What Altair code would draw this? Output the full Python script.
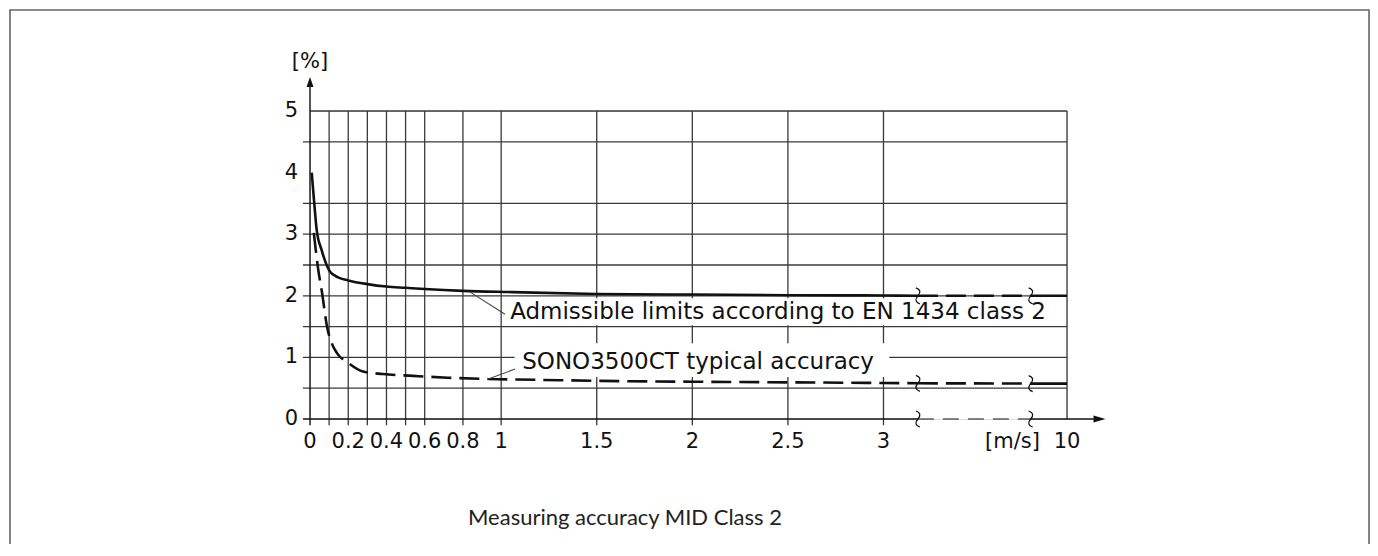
import altair as alt
import pandas as pd

# ---------------- data (x given in axis-position units; 3.96 stands for 10 m/s behind the break)
adm_pos = [0.009, 0.021, 0.035, 0.061, 0.087, 0.105, 0.147, 0.2, 0.3, 0.4, 0.5, 0.6, 0.8, 1.06, 1.5, 2.0, 2.5, 3.0, 3.18]
adm_val = [4.0, 3.55, 3.07, 2.74, 2.50, 2.39, 2.30, 2.25, 2.19, 2.15, 2.13, 2.11, 2.08, 2.06, 2.03, 2.02, 2.01, 2.005, 2.0]
adm_break_pos = [3.18, 3.77]
adm_break_val = [2.0, 2.0]
adm_tail_pos = [3.77, 3.96]
adm_tail_val = [2.0, 2.0]

sono_pos = [0.02, 0.03, 0.042, 0.063, 0.089, 0.115, 0.141, 0.2, 0.277, 0.38, 0.54, 0.72, 0.93, 1.31, 1.5, 2.0, 2.5, 3.0, 3.18]
sono_val = [3.02, 2.75, 2.45, 2.05, 1.5, 1.22, 1.07, 0.91, 0.77, 0.73, 0.70, 0.67, 0.65, 0.63, 0.62, 0.605, 0.595, 0.585, 0.58]
sono_break_pos = [3.18, 3.77]
sono_break_val = [0.58, 0.575]
sono_tail_pos = [3.77, 3.96]
sono_tail_val = [0.575, 0.575]

x_tick_pos = [0, 0.2, 0.4, 0.6, 0.8, 1, 1.5, 2, 2.5, 3, 3.96]
x_tick_labels = ["0", "0.2", "0.4", "0.6", "0.8", "1", "1.5", "2", "2.5", "3", "10"]
y_tick_vals = [0, 1, 2, 3, 4, 5]
y_tick_labels = ["0", "1", "2", "3", "4", "5"]

vgrid_pos = [0.1, 0.2, 0.3, 0.4, 0.5, 0.6, 0.8, 1, 1.5, 2, 2.5, 3, 3.96]
vgrid_bottom = [-0.1] * 12 + [0]
hgrid_val = [0.5, 1, 1.5, 2, 2.5, 3, 3.5, 4.5, 5]
hgrid_left = [-0.037] * 8 + [0]
X_END = 3.96
BREAK_A, BREAK_B = 3.18, 3.77

labels_text = ["Admissible limits according to EN 1434 class 2", "SONO3500CT typical accuracy"]
labels_pos = [1.047, 1.11]
labels_val = [1.73, 0.925]
box_x = [1.02, 1.07]
box_x2 = [3.85, 3.03]
box_y = [1.96, 1.23]
box_y2 = [1.52, 0.68]
lead_x = [0.838, 0.932]
lead_x2 = [1.02, 1.073]
lead_y = [2.06, 0.65]
lead_y2 = [1.70, 0.81]

squig_pos = [BREAK_A, BREAK_B, BREAK_A, BREAK_B, BREAK_A, BREAK_B]
squig_val = [0, 0, 2.0, 2.0, 0.58, 0.575]

caption = "Measuring accuracy MID Class 2"

# ---------------- helpers
xs = alt.Scale(domain=[0, X_END], nice=False, zero=False)
ys = alt.Scale(domain=[0, 5], nice=False, zero=False)
FONT = "DejaVu Sans"
GRID = "#3a3a3a"
INK = "#111111"


def X(f, **kw):
    return alt.X(f, type="quantitative", scale=xs, axis=None, **kw)


def Y(f, **kw):
    return alt.Y(f, type="quantitative", scale=ys, axis=None, **kw)


def line_layer(pos, val, dash=None, width=2.6):
    df = pd.DataFrame({"x": pos, "y": val})
    kw = dict(color=INK, strokeWidth=width, interpolate="monotone", clip=False)
    if dash:
        kw["strokeDash"] = dash
    return alt.Chart(df).mark_line(**kw).encode(x=X("x"), y=Y("y"), order="x:Q")


# frame around the figure
frame = alt.Chart(pd.DataFrame({"a": [0]})).mark_rect(
    filled=False, stroke="#666666", strokeWidth=1.6
).encode(x=alt.value(-300), x2=alt.value(1059), y=alt.value(-101), y2=alt.value(480))

# tick labels
xlab = alt.Chart(pd.DataFrame({"x": x_tick_pos, "y": [0] * len(x_tick_pos), "t": x_tick_labels})).mark_text(
    font=FONT, fontSize=21, color=INK, align="center", baseline="top", dy=12
).encode(x=X("x"), y=Y("y"), text="t:N")
ylab = alt.Chart(pd.DataFrame({"x": [0] * len(y_tick_vals), "y": y_tick_vals, "t": y_tick_labels})).mark_text(
    font=FONT, fontSize=21, color=INK, align="right", baseline="middle", dx=-12
).encode(x=X("x"), y=Y("y"), text="t:N")

vgrid = alt.Chart(pd.DataFrame({"x": vgrid_pos, "b": vgrid_bottom, "t": [5] * len(vgrid_pos)})).mark_rule(
    color=GRID, strokeWidth=1.3).encode(x=X("x"), y=Y("b"), y2="t")
hgrid = alt.Chart(pd.DataFrame({"y": hgrid_val, "l": hgrid_left, "r": [X_END] * len(hgrid_val)})).mark_rule(
    color=GRID, strokeWidth=1.3).encode(y=Y("y"), x=X("l"), x2="r")

boxes = alt.Chart(pd.DataFrame({"x": box_x, "x2": box_x2, "y": box_y, "y2": box_y2})).mark_rect(
    color="white").encode(x=X("x"), x2="x2", y=Y("y"), y2="y2")

# axis lines
yaxis = alt.Chart(pd.DataFrame({"x": [0], "b": [-0.1], "t": [5.39]})).mark_rule(
    color=INK, strokeWidth=1.4).encode(x=X("x"), y=Y("b"), y2="t")
xaxis_solid = alt.Chart(pd.DataFrame({"l": [-0.037, BREAK_B], "r": [BREAK_A, 4.1], "y": [0, 0]})).mark_rule(
    color=INK, strokeWidth=1.4).encode(x=X("l"), x2="r", y=Y("y"))
xaxis_dash = alt.Chart(pd.DataFrame({"l": [BREAK_A], "r": [BREAK_B], "y": [0]})).mark_rule(
    color=INK, strokeWidth=1.2, strokeDash=[16, 9]).encode(x=X("l"), x2="r", y=Y("y"))
arrow_x = alt.Chart(pd.DataFrame({"x": [4.13], "y": [0]})).mark_point(
    shape="M-1,-0.6L1,0L-1,0.6Z", size=144, filled=True, color=INK, opacity=1).encode(x=X("x"), y=Y("y"))
arrow_y = alt.Chart(pd.DataFrame({"x": [0], "y": [5.47]})).mark_point(
    shape="M-0.7,1L0,-1L0.7,1Z", size=100, filled=True, color=INK, opacity=1).encode(x=X("x"), y=Y("y"))

# curves
adm = line_layer(adm_pos, adm_val)
adm_b = line_layer(adm_break_pos, adm_break_val, dash=[20, 8])
adm_t = line_layer(adm_tail_pos, adm_tail_val)
sono = line_layer(sono_pos, sono_val, dash=[20, 8])
sono_b = line_layer(sono_break_pos, sono_break_val, dash=[20, 8])
sono_t = line_layer(sono_tail_pos, sono_tail_val)

squig = alt.Chart(pd.DataFrame({"x": squig_pos, "y": squig_val})).mark_point(
    shape="M-0.25,-1Q0.6,-0.7 0,0Q-0.6,0.7 0.25,1", size=256, filled=False,
    stroke=INK, strokeWidth=1.3, opacity=1
).encode(x=X("x"), y=Y("y"))

leaders = alt.Chart(pd.DataFrame({"x": lead_x, "x2": lead_x2, "y": lead_y, "y2": lead_y2})).mark_rule(
    color="#444444", strokeWidth=1.1).encode(x=X("x"), x2="x2", y=Y("y"), y2="y2")

texts = alt.Chart(pd.DataFrame({"x": labels_pos, "y": labels_val, "t": labels_text})).mark_text(
    font=FONT, fontSize=23, color=INK, align="left", baseline="middle"
).encode(x=X("x"), y=Y("y"), text="t:N")

unit_y = alt.Chart(pd.DataFrame({"x": [0], "y": [5.795], "t": ["[%]"]})).mark_text(
    font=FONT, fontSize=21, color=INK, align="center", baseline="middle"
).encode(x=X("x"), y=Y("y"), text="t:N")
unit_x = alt.Chart(pd.DataFrame({"x": [3.675], "y": [0], "t": ["[m/s]"]})).mark_text(
    font=FONT, fontSize=21, color=INK, align="center", baseline="top", dy=12
).encode(x=X("x"), y=Y("y"), text="t:N")

cap = alt.Chart(pd.DataFrame({"t": [caption]})).mark_text(
    font="Lato", fontSize=22, color="#222222", align="center", baseline="alphabetic"
).encode(x=alt.value(315), y=alt.value(414), text="t:N")

chart = alt.layer(
    frame, vgrid, hgrid, boxes, yaxis, xaxis_solid, xaxis_dash, arrow_x, arrow_y,
    adm, adm_b, adm_t, sono, sono_b, sono_t, squig, leaders, texts, unit_y, unit_x,
    xlab, ylab, cap
).properties(
    width=757, height=308, autosize="none",
    padding={"left": 302, "top": 103, "right": 303, "bottom": 125},
).configure_view(stroke=None).configure(background="white")

chart.save("out.html", embed_options={"renderer": "svg", "actions": False})
